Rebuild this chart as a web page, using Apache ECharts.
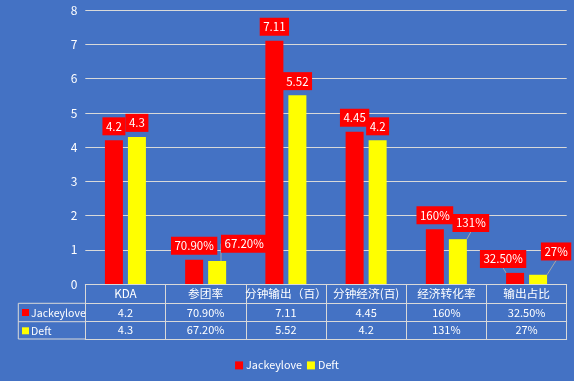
<!DOCTYPE html>
<html>
<head>
<meta charset="utf-8">
<script src="https://cdn.jsdelivr.net/npm/echarts@6/dist/echarts.min.js"></script>
<style>
html,body{margin:0;padding:0;background:#4472C4;}
#c{width:574px;height:381px;}
</style>
</head>
<body>
<div id="c"></div>
<script>
const categories = ['KDA', '参团率', '分钟输出（百）', '分钟经济(百)', '经济转化率', '输出占比'];
const seriesNames = ['Jackeylove', 'Deft'];
const jackeyloveValues = [4.2, 0.709, 7.11, 4.45, 1.6, 0.325];
const deftValues = [4.3, 0.672, 5.52, 4.2, 1.31, 0.27];
const jackeyloveLabels = ['4.2', '70.90%', '7.11', '4.45', '160%', '32.50%'];
const deftLabels = ['4.3', '67.20%', '5.52', '4.2', '131%', '27%'];
const yTicks = [0, 1, 2, 3, 4, 5, 6, 7, 8];

// label callout shifts (layout only)
const jlShift = {5: [-12, 0]};
const deftShift = {1: [27, -3.3], 4: [13, -2.3], 5: [18, -9.3]};

const FONT = '"Noto Sans CJK SC", sans-serif';
const TXT = '#FFFFFF';
const LINE = '#D9D9D9';

function mkData(vals, shift) {
  return vals.map((v, i) => ({value: v, labelLine: {show: !!shift[i]}}));
}
function mkLayout(shift) {
  return function (p) {
    const s = shift[p.dataIndex];
    return s ? {dx: s[0], dy: s[1]} : {};
  };
}
function mkLabel(texts) {
  return {
    show: true, position: 'top', distance: 5,
    formatter: p => texts[p.dataIndex],
    color: '#FFFFFF', backgroundColor: '#FF0000',
    fontFamily: FONT, fontSize: 11.5, lineHeight: 14,
    padding: [2, 3.5, 2, 3.5]
  };
}

const rowAxis = (offset, tickLen, labels, margin) => ({
  type: 'category', data: categories, position: 'bottom', offset: offset,
  axisLine: {show: true, lineStyle: {color: LINE, width: 1}},
  axisTick: {show: tickLen > 0, interval: 0, length: tickLen, lineStyle: {color: LINE, width: 1}},
  axisLabel: {
    show: !!labels, interval: 0, margin: margin, verticalAlign: 'middle',
    formatter: (v, i) => labels ? labels[i] : '',
    color: TXT, fontFamily: FONT, fontSize: 11
  },
  splitLine: {show: false}
});

const headerAxis = rowAxis(0, 19.3, categories, 9.7);
headerAxis.axisLabel.fontSize = 11.7;

const chart = echarts.init(document.getElementById('c'));
chart.setOption({
  backgroundColor: '#4472C4',
  animation: false,
  grid: {left: 85.3, right: 7.3, top: 10.3, bottom: 97, containLabel: false},
  legend: [
    {
      data: seriesNames, left: 'center', top: 360, itemWidth: 8, itemHeight: 8,
      itemGap: 5, icon: 'rect', padding: 0,
      textStyle: {color: TXT, fontFamily: FONT, fontSize: 10.8, padding: [0, 0, 0, -2]}
    },
    {
      data: seriesNames, left: 22, top: 305.5, orient: 'vertical', itemWidth: 7, itemHeight: 7,
      itemGap: 4.3, icon: 'rect', padding: 0, selectedMode: false,
      textStyle: {color: TXT, fontFamily: FONT, fontSize: 10.6, lineHeight: 14, padding: [0, 0, 0, -3]}
    }
  ],
  xAxis: [
    headerAxis,
    rowAxis(19.3, 18.4, jackeyloveLabels, 9.2),
    rowAxis(37.7, 17.3, deftLabels, 8.6),
    rowAxis(55, 0, null, 0)
  ],
  yAxis: {
    type: 'value', min: yTicks[0], max: yTicks[yTicks.length - 1], interval: 1,
    axisLine: {show: false}, axisTick: {show: false},
    axisLabel: {color: TXT, fontFamily: FONT, fontSize: 12, margin: 8},
    splitLine: {lineStyle: {color: LINE, width: 1}}
  },
  series: [
    {
      name: seriesNames[0], type: 'bar', xAxisIndex: 0, barWidth: 18, barGap: '27.8%',
      itemStyle: {color: '#FF0000'},
      data: mkData(jackeyloveValues, jlShift),
      label: mkLabel(jackeyloveLabels),
      labelLayout: mkLayout(jlShift),
      labelLine: {lineStyle: {color: '#A6A6A6', width: 1}}
    },
    {
      name: seriesNames[1], type: 'bar', xAxisIndex: 0, barWidth: 18, barGap: '27.8%',
      itemStyle: {color: '#FFFF00'},
      data: mkData(deftValues, deftShift),
      label: mkLabel(deftLabels),
      labelLayout: mkLayout(deftShift),
      labelLine: {lineStyle: {color: '#A6A6A6', width: 1}}
    }
  ],
  graphic: [
    {type: 'line', shape: {x1: 18.3, y1: 303.3, x2: 85.3, y2: 303.3}, style: {stroke: LINE, lineWidth: 1}},
    {type: 'line', shape: {x1: 18.3, y1: 321.7, x2: 85.3, y2: 321.7}, style: {stroke: LINE, lineWidth: 1}},
    {type: 'line', shape: {x1: 18.3, y1: 339, x2: 85.3, y2: 339}, style: {stroke: LINE, lineWidth: 1}},
    {type: 'line', shape: {x1: 18.3, y1: 303.3, x2: 18.3, y2: 339}, style: {stroke: LINE, lineWidth: 1}}
  ]
});
</script>
</body>
</html>
